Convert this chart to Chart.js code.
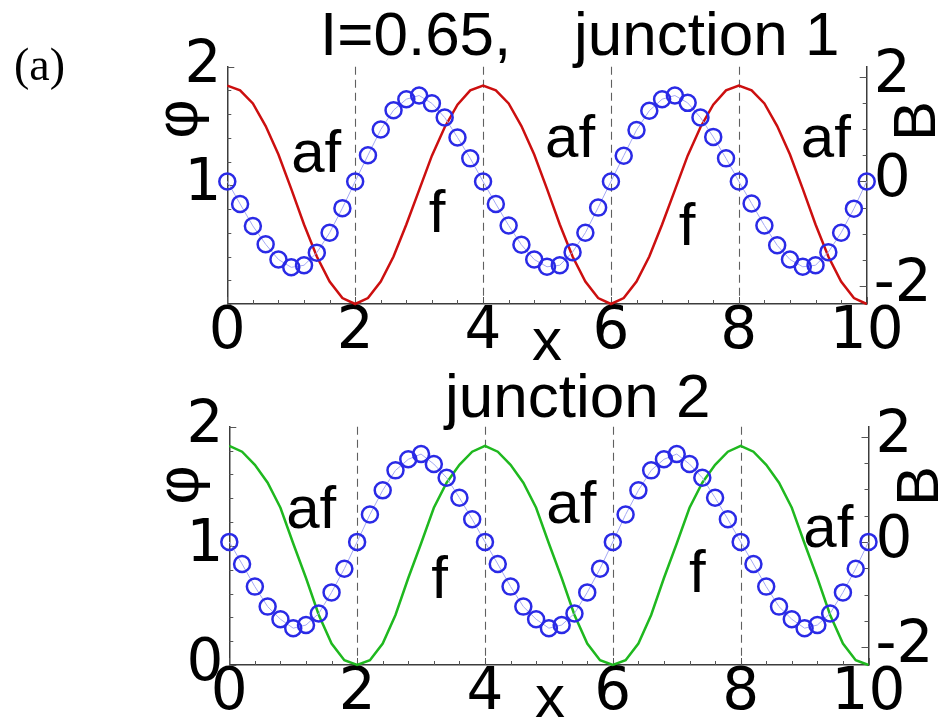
<!DOCTYPE html>
<html><head><meta charset="utf-8">
<script src="https://cdn.jsdelivr.net/npm/chart.js@4.4.1/dist/chart.umd.min.js"></script>
<style>
html,body{margin:0;padding:0;background:#fff;width:943px;height:723px;overflow:hidden}
canvas{position:absolute;left:0;top:0}
</style></head><body>
<canvas id="c1" width="943" height="723"></canvas>
<canvas id="c2" width="943" height="723"></canvas>
<script>
// ---------- data ----------
const xValues = [0,0.2,0.4,0.6,0.8,1,1.2,1.4,1.6,1.8,2,2.2,2.4,2.6,2.8,3,3.2,3.4,3.6,3.8,4,
  4.2,4.4,4.6,4.8,5,5.2,5.4,5.6,5.8,6,6.2,6.4,6.6,6.8,7,7.2,7.4,7.6,7.8,8,
  8.2,8.4,8.6,8.8,9,9.2,9.4,9.6,9.8,10];

// junction 1: phi (red line, left axis) and B (blue circles, right axis)
const phi1 = [1.84,1.80,1.69,1.50,1.26,0.97,0.67,0.40,0.19,0.05,0.00,
  0.05,0.19,0.40,0.67,0.96,1.25,1.49,1.68,1.80,1.84,
  1.80,1.69,1.50,1.26,0.97,0.67,0.40,0.19,0.05,0.00,
  0.05,0.19,0.40,0.67,0.96,1.25,1.49,1.68,1.80,1.84,
  1.80,1.69,1.50,1.26,0.97,0.67,0.40,0.19,0.05,0.00];
const B1 = [0,-0.43,-0.85,-1.20,-1.49,-1.64,-1.60,-1.36,-0.98,-0.51,0,
  0.50,0.99,1.36,1.57,1.64,1.49,1.22,0.84,0.44,0,
  -0.43,-0.84,-1.21,-1.49,-1.63,-1.60,-1.35,-0.98,-0.50,0,
  0.49,0.98,1.35,1.57,1.64,1.50,1.22,0.85,0.44,0,
  -0.42,-0.84,-1.22,-1.49,-1.63,-1.60,-1.35,-0.98,-0.52,0];

// junction 2: phi (green line) and B (blue circles)
const phi2 = [1.84,1.79,1.68,1.53,1.32,1.02,0.73,0.42,0.18,0.04,0.00,
  0.04,0.18,0.42,0.73,1.02,1.32,1.53,1.68,1.79,1.84,
  1.79,1.68,1.53,1.32,1.02,0.73,0.42,0.18,0.04,0.00,
  0.04,0.18,0.42,0.73,1.02,1.32,1.53,1.68,1.79,1.84,
  1.79,1.68,1.53,1.32,1.02,0.73,0.42,0.18,0.04,0.00];
const B2 = [0,-0.42,-0.85,-1.23,-1.47,-1.64,-1.58,-1.36,-0.96,-0.51,0,
  0.52,0.98,1.36,1.57,1.67,1.48,1.22,0.84,0.43,0,
  -0.42,-0.85,-1.23,-1.47,-1.64,-1.58,-1.36,-0.96,-0.51,0,
  0.52,0.98,1.36,1.57,1.67,1.48,1.22,0.84,0.43,0,
  -0.42,-0.85,-1.23,-1.47,-1.64,-1.58,-1.36,-0.96,-0.51,0];

// ---------- ticks ----------
const xTickValues = [0,0.4,0.8,1.2,1.6,2,2.4,2.8,3.2,3.6,4,4.4,4.8,5.2,5.6,6,6.4,6.8,7.2,7.6,8,8.4,8.8,9.2,9.6,10];
const xTickLabels = [0,2,4,6,8,10];
const phiTickValues = [0,0.2,0.4,0.6,0.8,1,1.2,1.4,1.6,1.8,2];
const phiTickLabels1 = [1,2];
const phiTickLabels2 = [0,1,2];
const bTickValues = [-2,-1.5,-1,-0.5,0,0.5,1,1.5,2];
const bTickLabels = [-2,0,2];
const dividers = [2,4,6,8];

// ---------- text ----------
const panelTitle1 = ['I=0.65,', 'junction 1'];
const panelTitle2 = ['junction 2'];
const panelTag = '(a)';
const annotations1 = [['af',1.00,1.11],['af',4.97,1.24],['af',8.97,1.24],['f',3.15,0.61],['f',7.06,0.50]];
const annotations2 = [['af',0.89,1.15],['af',4.96,1.19],['af',8.98,0.99],['f',3.16,0.56],['f',7.19,0.61]];

const FONT = '"Liberation Sans", Arial, Helvetica, sans-serif';
const TICKFONT = '"DejaVu Sans", Verdana, sans-serif';
const SZ = 60;

function near(a, b) { return Math.abs(a - b) < 1e-6; }
function labelIf(list) { return v => list.some(l => near(l, v)) ? String(Math.round(v)) : ''; }

const panelPlugin = {
  id: 'panelDeco',
  beforeDatasetsDraw(chart, args, o) {
    const ctx = chart.ctx, a = chart.chartArea, sx = chart.scales.x, sy = chart.scales.y, sb = chart.scales.y2;
    ctx.save();
    // dashed vertical dividers
    ctx.strokeStyle = '#606060'; ctx.lineWidth = 1.1; ctx.setLineDash([8,5]);
    dividers.forEach(v => {
      const px = Math.round(sx.getPixelForValue(v)) + 0.5;
      ctx.beginPath(); ctx.moveTo(px, a.top); ctx.lineTo(px, a.bottom); ctx.stroke();
    });
    ctx.setLineDash([]);
    // inward tick marks
    ctx.strokeStyle = '#555'; ctx.lineWidth = 1;
    sx.ticks.forEach(t => {
      const px = Math.round(sx.getPixelForValue(t.value)) + 0.5, L = t.label ? 7 : 4;
      ctx.beginPath(); ctx.moveTo(px, a.bottom); ctx.lineTo(px, a.bottom - L); ctx.stroke();
    });
    sy.ticks.forEach(t => {
      const py = Math.round(sy.getPixelForValue(t.value)) + 0.5, L = t.label ? 7 : 4;
      ctx.beginPath(); ctx.moveTo(a.left, py); ctx.lineTo(a.left + L, py); ctx.stroke();
    });
    sb.ticks.forEach(t => {
      const py = Math.round(sb.getPixelForValue(t.value)) + 0.5, L = t.label ? 7 : 4;
      ctx.beginPath(); ctx.moveTo(a.right, py); ctx.lineTo(a.right - L, py); ctx.stroke();
    });
    ctx.restore();
  },
  afterDatasetsDraw(chart, args, o) {
    const ctx = chart.ctx, sx = chart.scales.x, sy = chart.scales.y;
    ctx.save();
    ctx.fillStyle = '#000'; ctx.font = SZ + 'px ' + FONT; ctx.textAlign = 'left'; ctx.textBaseline = 'alphabetic';
    o.notes.forEach(n => ctx.fillText(n[0], sx.getPixelForValue(n[1]), sy.getPixelForValue(n[2])));
    ctx.restore();
  },
  afterDraw(chart, args, o) {
    const ctx = chart.ctx;
    ctx.save();
    ctx.fillStyle = '#000';
    o.texts.forEach(t => {
      ctx.save();
      ctx.font = (t.font || (SZ + 'px ' + FONT));
      ctx.textAlign = t.align || 'left';
      ctx.textBaseline = t.base || 'alphabetic';
      ctx.translate(t.x, t.y);
      if (t.rot) ctx.rotate(t.rot);
      ctx.fillText(t.text, 0, 0);
      ctx.restore();
    });
    ctx.restore();
  }
};

function makePanel(id, phi, B, lineColor, pad, xH, phiLabels, notes, texts) {
  const tickFont = {family: TICKFONT, size: 58, lineHeight: 1};
  const border = {display: true, color: '#3c3c3c', width: 1.5};
  return new Chart(document.getElementById(id), {
    type: 'line',
    data: {
      datasets: [
        {
          data: xValues.map((x, i) => ({x, y: B[i]})), yAxisID: 'y2',
          borderColor: '#a4a8f4', borderWidth: 1, pointRadius: 8, pointBorderWidth: 2.5,
          pointBorderColor: '#2a2ae6', pointBackgroundColor: 'rgba(0,0,0,0)', pointStyle: 'circle',
          tension: 0, clip: false
        },
        {
          data: xValues.map((x, i) => ({x, y: phi[i]})), yAxisID: 'y',
          borderColor: lineColor, borderWidth: 2.5, pointRadius: 0, tension: 0, clip: false
        }
      ]
    },
    options: {
      responsive: false, animation: false, events: [],
      layout: {padding: pad},
      plugins: {legend: {display: false}, tooltip: {enabled: false}, title: {display: false},
        panelDeco: {notes, texts}},
      scales: {
        x: {
          type: 'linear', position: 'bottom', min: 0, max: 10,
          afterBuildTicks: s => { s.ticks = xTickValues.map(v => ({value: v})); },
          afterFit: s => { s.height = xH; },
          grid: {display: false, drawTicks: false}, border,
          ticks: {autoSkip: false, maxRotation: 0, minRotation: 0, padding: 0, color: '#000', font: tickFont,
            callback: labelIf(xTickLabels)}
        },
        y: {
          type: 'linear', position: 'left', min: 0, max: 2,
          afterBuildTicks: s => { s.ticks = phiTickValues.map(v => ({value: v})); },
          afterFit: s => { s.width = 60; },
          grid: {display: false, drawTicks: false}, border,
          ticks: {autoSkip: false, padding: 6, color: '#000', font: tickFont, callback: labelIf(phiLabels)}
        },
        y2: {
          type: 'linear', position: 'right', min: -2.34, max: 2.19,
          afterBuildTicks: s => { s.ticks = bTickValues.map(v => ({value: v})); },
          afterFit: s => { s.width = 74; },
          grid: {display: false, drawTicks: false}, border,
          ticks: {autoSkip: false, padding: 7, color: '#000', font: tickFont, callback: labelIf(bTickLabels)}
        }
      }
    },
    plugins: [panelPlugin]
  });
}

makePanel('c1', phi1, B1, '#cc0f0f',
  {left: 167.3, right: 2.3, top: 66.7, bottom: 357}, 62,
  phiTickLabels1, annotations1,
  [
    {text: panelTag, x: 14, y: 80, font: '46px "Liberation Serif", "Times New Roman", serif'},
    {text: panelTitle1[0], x: 320, y: 55, font: '62px ' + FONT},
    {text: panelTitle1[1], x: 574, y: 55, font: '62px ' + FONT},
    {text: 'φ', x: 180, y: 119, align: 'center', base: 'middle', rot: -Math.PI / 2},
    {text: 'B', x: 918, y: 121, align: 'center', base: 'middle', rot: -Math.PI / 2},
    {text: 'x', x: 547, y: 360, align: 'center'}
  ]);

makePanel('c2', phi2, B2, '#1fb81f',
  {left: 169.3, right: 0.5, top: 426.7, bottom: 0}, 58,
  phiTickLabels2, annotations2,
  [
    {text: panelTitle2[0], x: 445, y: 417, font: '62px ' + FONT},
    {text: 'φ', x: 181, y: 485, align: 'center', base: 'middle', rot: -Math.PI / 2},
    {text: 'B', x: 921, y: 486, align: 'center', base: 'middle', rot: -Math.PI / 2},
    {text: 'x', x: 550, y: 717, align: 'center'}
  ]);
</script>
</body></html>
